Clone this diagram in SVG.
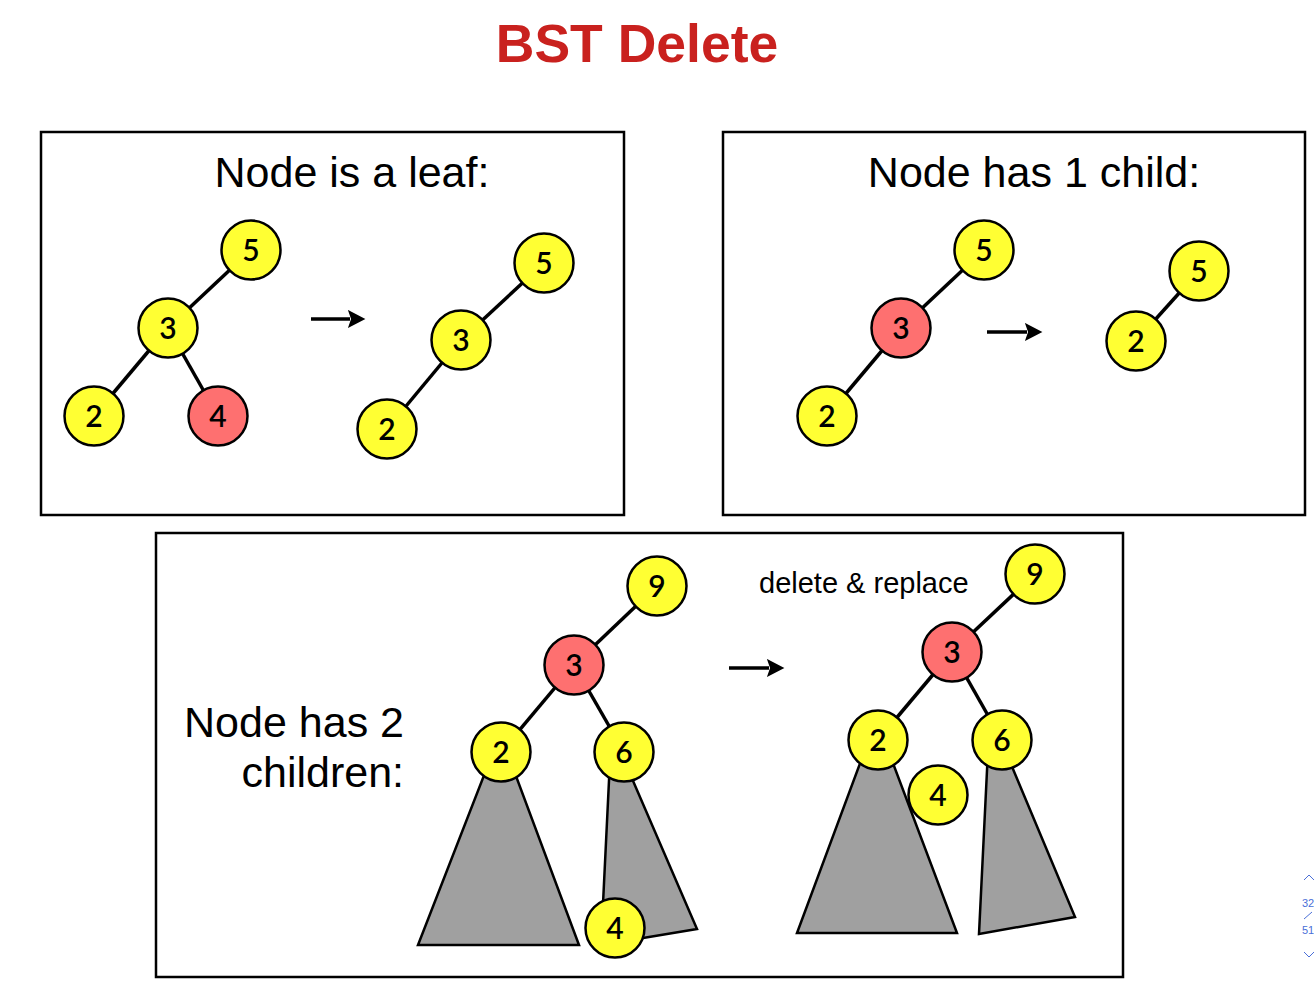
<svg xmlns="http://www.w3.org/2000/svg" width="1314" height="984" viewBox="0 0 1314 984">
<style>
.panel{fill:#fff;stroke:#000;stroke-width:2.5}
.title{font-family:"Liberation Sans",Arial,sans-serif;font-weight:bold;font-size:53.5px;fill:#c9211e}
.h{font-family:"Liberation Sans",Arial,sans-serif;font-size:43px;fill:#000}
.small{font-family:"Liberation Sans",Arial,sans-serif;font-size:29px;fill:#000}
.y{fill:#ffff33;stroke:#000;stroke-width:2.5}
.r{fill:#fe7070;stroke:#000;stroke-width:2.5}
.lbl{font-family:Lato,"Open Sans",sans-serif;font-weight:600;font-size:30px;fill:#000;text-anchor:middle}
.edge{stroke:#000;stroke-width:3.5;fill:none}
.tri{fill:#a0a0a0;stroke:#000;stroke-width:2.5;stroke-linejoin:miter}
.arr{stroke:#000;stroke-width:3.5;fill:none}
.nav{font-family:"Liberation Sans",Arial,sans-serif;font-size:11px;fill:#4a6fd8}
</style>
<defs>
<marker id="ah" markerWidth="6" markerHeight="6" refX="0.6" refY="2.6" orient="auto" markerUnits="strokeWidth">
<path d="M0,0 L5,2.6 L0,5.2 L0.9,2.6 z" fill="#000"/>
</marker>
</defs>
<rect width="1314" height="984" fill="#fff"/>
<text class="title" x="637" y="62" text-anchor="middle">BST Delete</text>

<g id="panel-leaf">
<rect class="panel" x="41" y="132" width="583" height="383"/>
<text class="h" x="352" y="187" text-anchor="middle">Node is a leaf:</text>
</g>
<g id="panel-one-child">
<rect class="panel" x="723" y="132" width="582" height="383"/>
<text class="h" x="1034" y="187" text-anchor="middle">Node has 1 child:</text>
</g>
<g id="panel-two-children">
<rect class="panel" x="156" y="533" width="967" height="444"/>
<text class="h" x="404" y="737" text-anchor="end">Node has 2</text>
<text class="h" x="404" y="787" text-anchor="end">children:</text>
<text class="small" x="759" y="593">delete &amp; replace</text>
</g>

<g id="subtrees">
<polygon class="tri" points="490,760 418,945 579,945 510,760"/>
<polygon class="tri" points="610,760 601,945 697,929 624,760"/>
<polygon class="tri" points="865,750 797,933 957,933 888,750"/>
<polygon class="tri" points="988,750 979,934 1075,917 1005,750"/>
</g>

<g id="connectors">
<line class="edge" x1="251" y1="250" x2="168" y2="328"/>
<line class="edge" x1="168" y1="328" x2="94" y2="416"/>
<line class="edge" x1="168" y1="328" x2="218" y2="416"/>
<line class="edge" x1="544" y1="263" x2="461" y2="340"/>
<line class="edge" x1="461" y1="340" x2="387" y2="429"/>
<line class="edge" x1="984" y1="250" x2="901" y2="328"/>
<line class="edge" x1="901" y1="328" x2="827" y2="416"/>
<line class="edge" x1="1199" y1="271" x2="1136" y2="341"/>
<line class="edge" x1="657" y1="586" x2="574" y2="665"/>
<line class="edge" x1="574" y1="665" x2="501" y2="752"/>
<line class="edge" x1="574" y1="665" x2="624" y2="752"/>
<line class="edge" x1="1035" y1="574" x2="952" y2="652"/>
<line class="edge" x1="952" y1="652" x2="878" y2="740"/>
<line class="edge" x1="952" y1="652" x2="1002" y2="740"/>
<line class="arr" x1="311" y1="319" x2="350" y2="319" marker-end="url(#ah)"/>
<line class="arr" x1="987" y1="332" x2="1027" y2="332" marker-end="url(#ah)"/>
<line class="arr" x1="729" y1="668" x2="769" y2="668" marker-end="url(#ah)"/>
</g>

<g id="n-leaf-5"><circle class="y" cx="251" cy="250" r="29.5"/><text class="lbl" x="251" y="261">5</text></g>
<g id="n-leaf-3"><circle class="y" cx="168" cy="328" r="29.5"/><text class="lbl" x="168" y="339">3</text></g>
<g id="n-leaf-2"><circle class="y" cx="94" cy="416" r="29.5"/><text class="lbl" x="94" y="427">2</text></g>
<g id="n-leaf-4"><circle class="r" cx="218" cy="416" r="29.5"/><text class="lbl" x="218" y="427">4</text></g>

<g id="n-leafafter-5"><circle class="y" cx="544" cy="263" r="29.5"/><text class="lbl" x="544" y="274">5</text></g>
<g id="n-leafafter-3"><circle class="y" cx="461" cy="340" r="29.5"/><text class="lbl" x="461" y="351">3</text></g>
<g id="n-leafafter-2"><circle class="y" cx="387" cy="429" r="29.5"/><text class="lbl" x="387" y="440">2</text></g>

<g id="n-one-5"><circle class="y" cx="984" cy="250" r="29.5"/><text class="lbl" x="984" y="261">5</text></g>
<g id="n-one-3"><circle class="r" cx="901" cy="328" r="29.5"/><text class="lbl" x="901" y="339">3</text></g>
<g id="n-one-2"><circle class="y" cx="827" cy="416" r="29.5"/><text class="lbl" x="827" y="427">2</text></g>

<g id="n-oneafter-5"><circle class="y" cx="1199" cy="271" r="29.5"/><text class="lbl" x="1199" y="282">5</text></g>
<g id="n-oneafter-2"><circle class="y" cx="1136" cy="341" r="29.5"/><text class="lbl" x="1136" y="352">2</text></g>

<g id="n-two-9"><circle class="y" cx="657" cy="586" r="29.5"/><text class="lbl" x="657" y="597">9</text></g>
<g id="n-two-3"><circle class="r" cx="574" cy="665" r="29.5"/><text class="lbl" x="574" y="676">3</text></g>
<g id="n-two-2"><circle class="y" cx="501" cy="752" r="29.5"/><text class="lbl" x="501" y="763">2</text></g>
<g id="n-two-6"><circle class="y" cx="624" cy="752" r="29.5"/><text class="lbl" x="624" y="763">6</text></g>
<g id="n-two-4"><circle class="y" cx="615" cy="928" r="29.5"/><text class="lbl" x="615" y="939">4</text></g>

<g id="n-twoafter-9"><circle class="y" cx="1035" cy="574" r="29.5"/><text class="lbl" x="1035" y="585">9</text></g>
<g id="n-twoafter-3"><circle class="r" cx="952" cy="652" r="29.5"/><text class="lbl" x="952" y="663">3</text></g>
<g id="n-twoafter-2"><circle class="y" cx="878" cy="740" r="29.5"/><text class="lbl" x="878" y="751">2</text></g>
<g id="n-twoafter-6"><circle class="y" cx="1002" cy="740" r="29.5"/><text class="lbl" x="1002" y="751">6</text></g>
<g id="n-twoafter-4"><circle class="y" cx="938" cy="795" r="29.5"/><text class="lbl" x="938" y="806">4</text></g>

<g id="page-nav">
<polyline points="1304,880 1309,875 1314,880" fill="none" stroke="#4a6fd8" stroke-width="1"/>
<text class="nav" x="1302" y="907">32</text>
<line x1="1304" y1="919" x2="1312" y2="912" stroke="#4a6fd8" stroke-width="1"/>
<text class="nav" x="1302" y="934">51</text>
<polyline points="1304,952 1309,957 1314,952" fill="none" stroke="#4a6fd8" stroke-width="1"/>
</g>
</svg>
